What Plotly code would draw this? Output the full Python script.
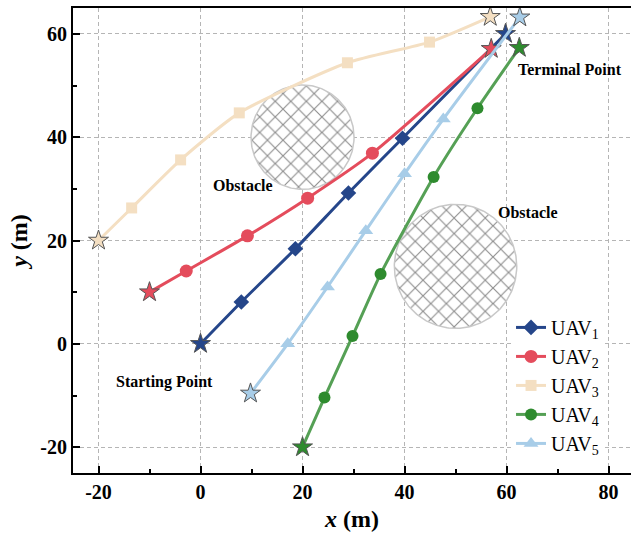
import numpy as np
import plotly.graph_objects as go

# ---- data ----
names = ["UAV<sub>1</sub>", "UAV<sub>2</sub>", "UAV<sub>3</sub>", "UAV<sub>4</sub>", "UAV<sub>5</sub>"]

uav1_x = [0.0, 8.0, 18.6, 29.0, 39.6, 59.8]
uav1_y = [0.0, 8.1, 18.4, 29.2, 39.8, 60.0]

uav2_x = [-10.0, -2.8, 9.2, 21.0, 33.7, 57.0]
uav2_y = [10.0, 14.1, 20.9, 28.2, 36.9, 57.1]

uav3_x = [-20.0, -13.5, -3.9, 7.6, 28.8, 44.9, 56.8]
uav3_y = [20.0, 26.3, 35.6, 44.7, 54.4, 58.4, 63.3]

uav4_x = [20.0, 24.3, 29.8, 35.3, 45.7, 54.3, 62.5]
uav4_y = [-20.0, -10.4, 1.5, 13.5, 32.3, 45.6, 57.3]

uav5_x = [9.8, 17.1, 24.9, 32.4, 40.0, 47.6, 62.6]
uav5_y = [-9.6, 0.0, 11.0, 21.9, 32.9, 43.5, 63.2]

obstacle_cx = [20.0, 50.0]
obstacle_cy = [40.0, 15.0]
obstacle_r = [10.1, 12.0]

label_text = ["Obstacle", "Obstacle", "Starting Point", "Terminal Point"]
label_x = [8.4, 64.2, -7.0, 72.4]
label_y = [30.6, 25.5, -7.3, 53.1]

x_ticks = [-20, 0, 20, 40, 60, 80]
x_tick_text = ["-20", "0", "20", "40", "60", "80"]
y_ticks = [-20, 0, 20, 40, 60]
y_tick_text = ["-20", "0", "20", "40", "60"]

# ---- styles ----
line_colors = ["#25468a", "#e44c5c", "#f4dfc2", "#55a055", "#a8cde8"]
marker_colors = ["#25468a", "#e44c5c", "#f4dfc2", "#2e8b2e", "#a8cde8"]
symbols = ["diamond", "circle", "square", "circle", "triangle-up"]
msizes = [12, 13, 11, 12, 13]

paths = [(uav1_x, uav1_y), (uav2_x, uav2_y), (uav3_x, uav3_y),
         (uav4_x, uav4_y), (uav5_x, uav5_y)]

fig = go.Figure()

# obstacles
theta = np.linspace(0, 2 * np.pi, 240)
for cx, cy, r in zip(obstacle_cx, obstacle_cy, obstacle_r):
    fig.add_trace(go.Scatter(
        x=cx + r * np.cos(theta), y=cy + r * np.sin(theta),
        mode="lines", fill="toself",
        fillcolor="white",
        fillpattern=dict(shape="x", size=11, solidity=0.2,
                         fgcolor="#1e1e1e", bgcolor="white"),
        line=dict(color="#c8c8c8", width=1.5),
        showlegend=False, hoverinfo="skip"))

# paths
for i, (px, py) in enumerate(paths):
    fig.add_trace(go.Scatter(
        x=px, y=py, mode="lines",
        line=dict(color=line_colors[i], width=3, shape="spline", smoothing=0.6),
        showlegend=False, hoverinfo="skip"))
    fig.add_trace(go.Scatter(
        x=px[1:-1], y=py[1:-1], mode="markers",
        marker=dict(symbol=symbols[i], size=msizes[i], color=marker_colors[i]),
        showlegend=False))
    fig.add_trace(go.Scatter(
        x=[px[0], px[-1]], y=[py[0], py[-1]], mode="markers",
        marker=dict(symbol="star", size=15, color=marker_colors[i],
                    line=dict(color="#555555", width=1)),
        showlegend=False))

# legend entries
for i in range(5):
    fig.add_trace(go.Scatter(
        x=[None], y=[None], mode="lines+markers", name=names[i],
        line=dict(color=line_colors[i], width=3),
        marker=dict(symbol=symbols[i], size=msizes[i], color=marker_colors[i])))

for t, ax_, ay_ in zip(label_text, label_x, label_y):
    fig.add_annotation(x=ax_, y=ay_, text=t, showarrow=False,
                       font=dict(family="Liberation Serif", size=16,
                                 color="black", weight="bold"))

axis_common = dict(
    showline=True, linecolor="black", linewidth=2,
    ticks="inside", ticklen=7, tickwidth=2, tickcolor="black",
    showgrid=True, gridcolor="#b5b5b5", gridwidth=1, griddash="4px,3px",
    zeroline=False,
    tickfont=dict(family="Liberation Serif", size=20, color="black", weight="bold"),
    minor=dict(ticks="inside", ticklen=4, tickwidth=2, tickcolor="black", showgrid=False),
)

fig.update_xaxes(range=[-25, 84.4], tickvals=x_ticks, ticktext=x_tick_text, mirror=True,
                 minor_dtick=10, minor_tick0=0,
                 title=dict(text="<i>x</i> (m)", standoff=8,
                            font=dict(family="Liberation Serif", size=24,
                                      color="black", weight="bold")),
                 **axis_common)
fig.update_yaxes(range=[-25, 65], tickvals=y_ticks, ticktext=y_tick_text,
                 minor_dtick=10, minor_tick0=0,
                 title=dict(text="<i>y</i> (m)", standoff=6,
                            font=dict(family="Liberation Serif", size=24,
                                      color="black", weight="bold")),
                 **axis_common)

fig.update_layout(
    width=631, height=539,
    margin=dict(l=73, r=0, t=8, b=66),
    plot_bgcolor="white", paper_bgcolor="white",
    legend=dict(x=0.785, y=0.355, xanchor="left", yanchor="top",
                bgcolor="white", borderwidth=0,
                font=dict(family="Liberation Serif", size=20, color="black"),
                tracegroupgap=0),
)

fig.write_html("out.html")
